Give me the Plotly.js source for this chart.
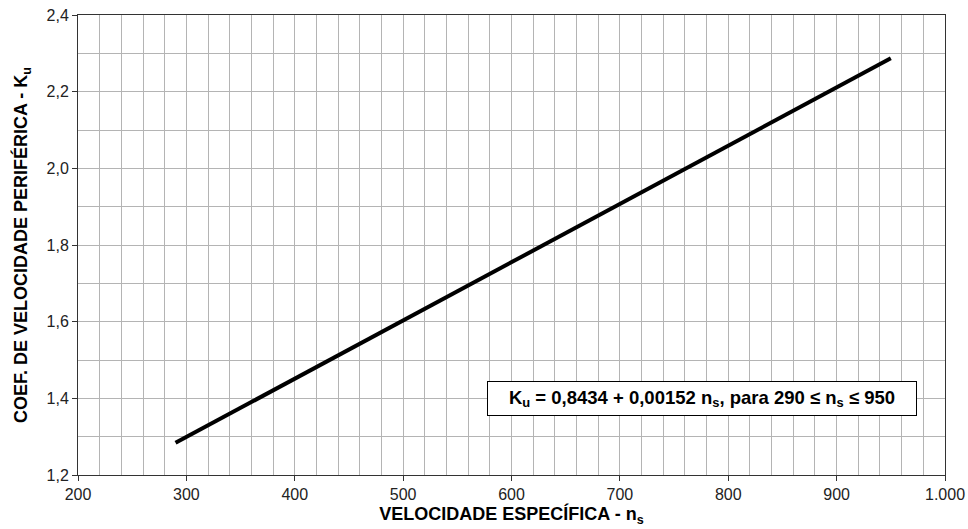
<!DOCTYPE html>
<html>
<head>
<meta charset="utf-8">
<script src="https://cdn.plot.ly/plotly-3.0.1.min.js"></script>
<style>html,body{margin:0;padding:0;background:#fff;}#chart{width:968px;height:529px;}</style>
</head>
<body>
<div id="chart"></div>
<script>
// Specific speed n_s vs. peripheral velocity coefficient K_u
const ns = [290, 950];
const ku = [1.284, 2.287];
const xTicks = [200, 300, 400, 500, 600, 700, 800, 900, 1000];
const yTicks = [1.2, 1.4, 1.6, 1.8, 2.0, 2.2, 2.4];
const formulaText = 'K<sub>u</sub> = 0,8434 + 0,00152 n<sub>s</sub>, para 290 ≤ n<sub>s</sub> ≤ 950';

const gridColor = '#b4b4b4';
const font = 'Liberation Sans, Arial, sans-serif';

const trace = {
  x: ns, y: ku, type: 'scatter', mode: 'lines',
  line: {color: '#000', width: 4}, hoverinfo: 'skip'
};

const layout = {
  width: 968, height: 529,
  margin: {l: 78, r: 23, t: 15, b: 54},
  paper_bgcolor: '#fff', plot_bgcolor: '#fff',
  separators: ',.',
  showlegend: false,
  font: {family: font, color: '#000', size: 16},
  xaxis: {
    range: [200, 1000], tickvals: xTicks, tickformat: ',d',
    showgrid: true, gridcolor: gridColor, gridwidth: 1,
    minor: {dtick: 20, tick0: 200, showgrid: true, gridcolor: gridColor, gridwidth: 1, ticks: ''},
    ticks: 'outside', ticklen: 5, tickcolor: '#333',
    showline: true, linecolor: '#333', linewidth: 1, mirror: true,
    zeroline: false, tickfont: {size: 16, color: '#222'},
    title: {text: '<b>VELOCIDADE ESPECÍFICA - n<sub>s</sub></b>', font: {size: 18}, standoff: 5}
  },
  yaxis: {
    range: [1.2, 2.4], tickvals: yTicks, tickformat: '.1f',
    showgrid: true, gridcolor: gridColor, gridwidth: 1,
    minor: {dtick: 0.1, tick0: 1.2, showgrid: true, gridcolor: gridColor, gridwidth: 1, ticks: ''},
    ticks: 'outside', ticklen: 5, tickcolor: '#333',
    showline: true, linecolor: '#333', linewidth: 1, mirror: true,
    zeroline: false, tickfont: {size: 16, color: '#222'},
    title: {text: '<b>COEF. DE VELOCIDADE PERIFÉRICA - K<sub>u</sub></b>', font: {size: 18}, standoff: 14}
  },
  annotations: [{
    x: 776, y: 1.4, xref: 'x', yref: 'y',
    text: '<b>' + formulaText + '</b>', showarrow: false,
    font: {size: 18.5, color: '#000', family: font},
    width: 416, height: 21, align: 'center', valign: 'middle',
    bgcolor: '#fff', bordercolor: '#000', borderwidth: 1,
    borderpad: 6, xanchor: 'center', yanchor: 'middle'
  }]
};

Plotly.newPlot('chart', [trace], layout, {staticPlot: true, displayModeBar: false});
</script>
</body>
</html>
